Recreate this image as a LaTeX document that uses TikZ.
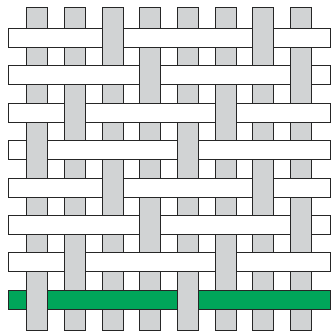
\documentclass[tikz,border=0pt]{standalone}
\definecolor{warp}{HTML}{D1D3D4}
\definecolor{weftgreen}{HTML}{00A65A}
\begin{document}
\begin{tikzpicture}[x=1pt,y=-1pt,line width=1pt,
  warpstrip/.style={draw=black!85,fill=warp},
  weftstrip/.style={draw=black!85,fill=#1}]
\useasboundingbox (0,0) rectangle (336,331);
% vertical (warp) strips
\foreach \j in {0,...,7}{
  \pgfmathsetmacro\xl{26.7+37.66*\j}
  \draw[warpstrip] (\xl,7.7) rectangle ({\xl+21},330);
}
% horizontal (weft) strips
\foreach \i/\c in {0/white,1/white,2/white,3/white,4/white,5/white,6/white,7/weftgreen}{
  \pgfmathsetmacro\yt{28.3+37.43*\i}
  \draw[weftstrip=\c] (8.3,\yt) rectangle (330,{\yt+19});
}
% crossings where the warp lies on top
\foreach \i/\a/\b in {0/2/6,1/3/7,2/1/5,3/0/4,4/2/6,5/3/7,6/1/5,7/0/4}{
  \foreach \j in {\a,\b}{
    \pgfmathsetmacro\xl{26.7+37.66*\j}
    \pgfmathsetmacro\xr{\xl+21}
    \pgfmathsetmacro\yt{28.3+37.43*\i-1}
    \pgfmathsetmacro\yb{28.3+37.43*\i+20}
    \fill[warp] (\xl,\yt) rectangle (\xr,\yb);
    \draw[black!85] (\xl,\yt) -- (\xl,\yb) (\xr,\yt) -- (\xr,\yb);
  }
}
\end{tikzpicture}
\end{document}
